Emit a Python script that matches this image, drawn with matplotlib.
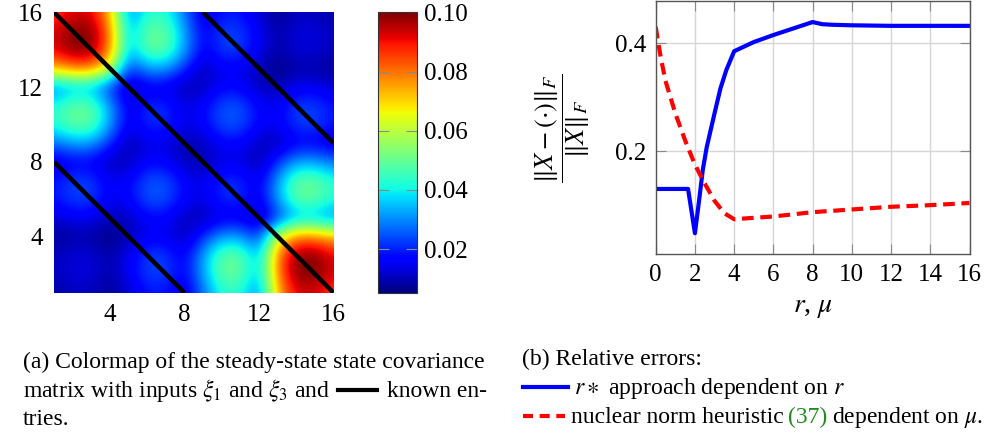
import numpy as np
import matplotlib
matplotlib.use("Agg")
import matplotlib.pyplot as plt
from matplotlib.lines import Line2D

plt.rcParams['font.family'] = ['Liberation Serif', 'DejaVu Serif']
plt.rcParams['mathtext.fontset'] = 'stix'

# ---------------- data ----------------
# steady-state covariance matrix (16x16), row 1 = top
cov = [
    [.0846, .0920, .0920, .0736, .0276, .0425, .0425, .0276, .0120, .0184, .0184, .0120, .0068, .0104, .0104, .0083],
    [.0920, .1000, .1000, .0800, .0325, .0500, .0500, .0325, .0150, .0230, .0230, .0150, .0085, .0130, .0130, .0104],
    [.0920, .1000, .1000, .0800, .0325, .0500, .0500, .0325, .0150, .0230, .0230, .0150, .0085, .0130, .0130, .0104],
    [.0736, .0800, .0800, .0640, .0211, .0325, .0325, .0211, .0097, .0150, .0150, .0097, .0055, .0085, .0085, .0068],
    [.0276, .0325, .0325, .0211, .0089, .0137, .0137, .0089, .0106, .0163, .0163, .0106, .0097, .0150, .0150, .0120],
    [.0425, .0500, .0500, .0325, .0137, .0210, .0210, .0137, .0163, .0250, .0250, .0163, .0150, .0230, .0230, .0184],
    [.0425, .0500, .0500, .0325, .0137, .0210, .0210, .0137, .0163, .0250, .0250, .0163, .0150, .0230, .0230, .0184],
    [.0276, .0325, .0325, .0211, .0089, .0137, .0137, .0089, .0106, .0163, .0163, .0106, .0097, .0150, .0150, .0120],
    [.0120, .0150, .0150, .0097, .0106, .0163, .0163, .0106, .0089, .0137, .0137, .0089, .0211, .0325, .0325, .0276],
    [.0184, .0230, .0230, .0150, .0163, .0250, .0250, .0163, .0137, .0210, .0210, .0137, .0325, .0500, .0500, .0425],
    [.0184, .0230, .0230, .0150, .0163, .0250, .0250, .0163, .0137, .0210, .0210, .0137, .0325, .0500, .0500, .0425],
    [.0120, .0150, .0150, .0097, .0106, .0163, .0163, .0106, .0089, .0137, .0137, .0089, .0211, .0325, .0325, .0276],
    [.0068, .0085, .0085, .0055, .0097, .0150, .0150, .0097, .0211, .0325, .0325, .0211, .0640, .0800, .0800, .0736],
    [.0104, .0130, .0130, .0085, .0150, .0230, .0230, .0150, .0325, .0500, .0500, .0325, .0800, .1000, .1000, .0920],
    [.0104, .0130, .0130, .0085, .0150, .0230, .0230, .0150, .0325, .0500, .0500, .0325, .0800, .1000, .1000, .0920],
    [.0083, .0104, .0104, .0068, .0120, .0184, .0184, .0120, .0276, .0425, .0425, .0276, .0736, .0920, .0920, .0846],
]
known_diag_offsets = [-8, 0, 8]
heat_ticks = [4, 8, 12, 16]
cbar_ticks = [0.02, 0.04, 0.06, 0.08, 0.10]
cbar_ticklabels = ["0.02", "0.04", "0.06", "0.08", "0.10"]

r_vals = [0, 1.65, 2.0, 2.2, 2.4, 2.6, 3.0, 3.3, 3.6, 4.0, 5, 6, 7, 8, 8.5, 9, 10, 12, 14, 16]
r_err = [0.130, 0.130, 0.048, 0.105, 0.165, 0.207, 0.270, 0.316, 0.350, 0.385,
         0.402, 0.415, 0.427, 0.439, 0.435, 0.434, 0.433, 0.432, 0.432, 0.432]
mu_vals = [0, 0.25, 0.5, 1, 1.5, 2, 2.5, 3, 3.5, 4, 6, 8, 10, 12, 14, 16]
mu_err = [0.430, 0.375, 0.330, 0.270, 0.220, 0.175, 0.140, 0.108, 0.085, 0.074,
          0.079, 0.087, 0.092, 0.097, 0.100, 0.104]
xticks_b = [0, 2, 4, 6, 8, 10, 12, 14, 16]
yticks_b = [0.2, 0.4]

# ---------------- layout helpers ----------------
W, H = 993, 433
fig = plt.figure(figsize=(W / 100, H / 100), dpi=100)


def fx(x):
    return x / W


def fy(y):
    return 1 - y / H


def axrect(l, t, r, b):
    return [fx(l), fy(b), (r - l) / W, (b - t) / H]


FS = 18

# ---------------- (a) heatmap ----------------
ax1 = fig.add_axes(axrect(54, 12.3, 333.5, 292.7))
M = np.array(cov)
n = M.shape[0]
im = ax1.imshow(M, cmap='jet', vmin=0.0053, vmax=0.1, origin='upper',
                extent=(0.5, n + 0.5, 0.5, n + 0.5), interpolation='bicubic',
                interpolation_stage='data', aspect='auto')
ax1.set_xlim(1, n)
ax1.set_ylim(1, n)
for k in known_diag_offsets:
    ii = np.arange(max(1, 1 - k), min(n, n - k) + 1)
    jj = ii + k
    ax1.plot(jj, (n + 1) - ii, color='black', lw=3.2, solid_capstyle='butt')
ax1.set_xticks(heat_ticks)
ax1.set_yticks(heat_ticks)
ax1.tick_params(length=0, labelsize=FS, pad=8)
for s in ax1.spines.values():
    s.set_visible(False)

cax = fig.add_axes(axrect(378.3, 12.3, 416.7, 292.7))
cb = fig.colorbar(im, cax=cax)
cb.set_ticks(cbar_ticks)
cb.set_ticklabels(cbar_ticklabels)
cax.tick_params(direction='in', length=8, width=0.8, color='#8a8a8a',
                left=True, right=True, labelleft=False, labelright=True,
                labelsize=FS, pad=5)
cb.outline.set_linewidth(0.8)
cb.outline.set_edgecolor('#333333')

# ---------------- (b) relative errors ----------------
ax2 = fig.add_axes(axrect(655.7, 1, 969.5, 254.3))
ax2.plot(r_vals, r_err, color='blue', lw=3.0, solid_joinstyle='round')
ax2.plot(mu_vals, mu_err, color='red', lw=3.0, dashes=(2.8, 1.6))
ax2.set_xlim(0, 16)
ax2.set_ylim(0.009, 0.478)
ax2.set_xticks(xticks_b)
ax2.set_yticks(yticks_b)
ax2.set_xticklabels([str(v) for v in xticks_b])
ax2.set_yticklabels(["0.2", "0.4"])
ax2.grid(True, color='#d6d6d6', lw=1.0)
ax2.set_axisbelow(True)
ax2.tick_params(direction='in', length=7.5, width=0.8, color='#8a8a8a',
                top=True, right=True, labelsize=FS, pad=7)
for s in ax2.spines.values():
    s.set_color('#555555')
    s.set_linewidth(1.0)

fig.text(fx(563), fy(128), r'$\dfrac{\Vert X-(\cdot)\Vert_F}{\Vert X\Vert_F}$',
         rotation=90, ha='center', va='center', fontsize=FS + 1)
fig.text(fx(812.6), fy(307), r'$r$, $\mu$', ha='center', va='center', fontsize=FS + 2)

# ---------------- captions ----------------
CFS = 17
renderer = fig.canvas.get_renderer()


def seq(x0, ybase, pieces, gap=5.5):
    x = x0
    for p in pieces:
        if isinstance(p, tuple) and p[0] == 'line':
            _, length, color, dashes = p
            ln = Line2D([fx(x), fx(x + length)], [fy(ybase - 7)] * 2, color=color,
                        lw=3.0, transform=fig.transFigure)
            if dashes:
                ln.set_dashes(dashes)
            fig.add_artist(ln)
            x = x + length + gap + 2
            continue
        txt, col = p
        t = fig.text(fx(x), fy(ybase), txt, color=col, fontsize=CFS, va='baseline', ha='left')
        bb = t.get_window_extent(renderer)
        x = bb.x1 + gap


seq(23, 368, [("(a) Colormap of the steady-state state covariance", 'black')])
seq(23, 397, [(r"matrix with inputs $\xi_1$ and $\xi_3$ and", 'black'),
              ('line', 39, 'black', None),
              ("known en-", 'black')], gap=8)
seq(23, 425, [("tries.", 'black')])

seq(521.7, 365, [("(b) Relative errors:", 'black')])
seq(522.7, 394, [('line', 45.6, 'blue', None),
                 (r"$r\ast$ approach dependent on $r$", 'black')], gap=4)
seq(522.7, 423.3, [('line', 42, 'red', (2.4, 1.6)),
                   ("nuclear norm heuristic", 'black'),
                   ("(37)", '#1e8c1e'),
                   (r"dependent on $\mu$.", 'black')], gap=4.5)

fig.savefig('out.png', dpi=100)
